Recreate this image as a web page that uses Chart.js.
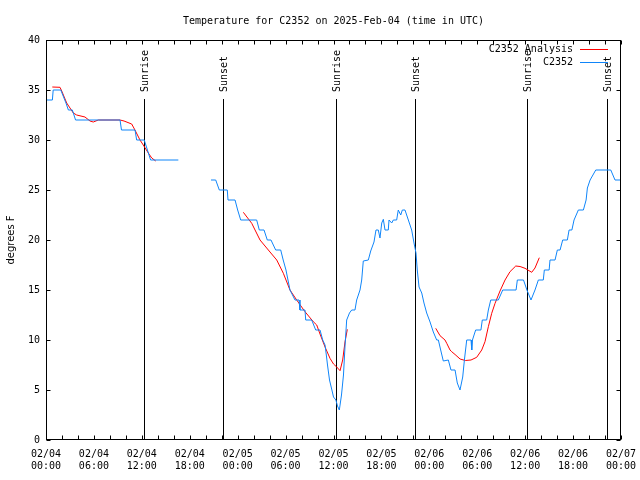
<!DOCTYPE html>
<html>
<head>
<meta charset="utf-8">
<script src="https://cdn.jsdelivr.net/npm/chart.js@4/dist/chart.umd.min.js"></script>
<style>
html,body{margin:0;padding:0;background:#fff;}
#wrap{width:640px;height:480px;}
</style>
</head>
<body>
<div id="wrap"><canvas id="c" width="640" height="480"></canvas></div>
<script>
// ---- data (hours since 02/04 00:00 UTC, degrees F) ----
const stationHours = [0,0.8,0.9,1.85,2.2,2.5,2.8,3.3,3.7,9.27,9.45,11.15,11.35,12.3,12.7,13.1,16.57,
  18.5,
  20.66,21.25,21.7,22.7,22.79,23.67,24.0,24.38,26.38,26.71,27.3,27.71,28.17,28.76,29.39,29.7,30.05,30.55,31.18,31.68,31.8,32.43,32.52,33.27,33.77,34.31,34.65,
  34.94,35.1,35.25,35.5,35.8,36.0,36.3,36.5,36.73,37.0,37.25,37.45,37.65,38.0,38.28,38.69,38.9,39.32,39.53,39.73,40.36,40.66,41.07,41.32,41.61,41.82,42.04,42.24,42.45,42.86,42.95,43.29,43.49,43.91,44.11,44.42,44.62,44.95,45.37,45.79,46.08,46.33,46.49,46.71,47.05,47.33,47.67,48.09,48.5,48.92,49.13,49.42,49.75,50.38,50.71,51.22,51.5,51.84,52.18,52.39,52.68,53.22,53.31,53.4,53.8,54.46,54.63,55.18,55.39,55.69,56.64,57.19,58.86,59.02,59.79,60.22,60.73,61.23,61.65,62.27,62.4,63.0,63.11,63.74,64.03,64.37,64.7,65.28,65.5,65.85,66.12,66.66,67.29,67.63,67.79,68.13,68.84,70.72,71.25,71.88];
const stationTemps = [34,34,35,35,34.3,33.7,33,33,32,32,31,31,30,30,29,28,28,
  null,
  26,26,25,25,24,24,23,22,22,21,21,20,20,19,19,18,17,15,14,14,13,13,12,12,11,11,10,
  9.5,8.5,7.5,6,5,4.3,4,3.4,3,4.5,6.5,9.5,12,12.7,13,13,14,15,16,17.9,18,18.9,19.8,21,21,20.2,21.7,22.07,21,21,22,21.7,22,22,23,22.5,23,23,22,21,19.7,18.7,17,15.3,14.7,13.7,12.7,11.8,10.8,10,10,9,7.9,8,7,7,5.7,5,6.3,8,10,10,9,10,11,11,12,12,13,14,14,15,15,16,16,15,14,15,16,16,17,17,18,18,19,19,20,20,21,21,22,23,23,24,25.2,26,27,27,26,26];

const analysisHours = [0.79,1.75,1.97,2.59,3.42,3.84,4.88,5.51,5.92,6.55,9.27,9.77,10.73,11.14,11.77,12.18,12.81,13.24,13.74,
  18,
  24.71,25.76,26.8,27.84,28.89,29.72,30.55,31.39,32.43,33.47,33.9,34.31,34.94,35.56,36.0,36.4,36.82,37.15,37.44,37.73,
  43,
  48.8,49.34,49.96,50.18,50.59,50.8,51.22,51.85,52.5,53.22,53.93,54.56,54.97,55.39,55.81,56.23,56.85,57.48,58.1,58.82,59.36,59.98,60.82,61.23,61.77];
const analysisTemps = [35.3,35.27,34.9,33.7,32.7,32.5,32.3,31.9,31.8,32.0,32.0,31.9,31.6,31.0,30.0,29.5,28.7,28.2,27.9,
  null,
  22.77,21.67,20.0,19.0,18.0,16.67,15,14,12.83,11.83,11.5,10.6,9.3,8.17,7.6,7.3,6.93,8.0,9.8,11.07,
  null,
  11.17,10.43,10,9.67,9,8.83,8.55,8.1,7.95,8.0,8.27,9.0,9.83,11.33,12.67,13.67,14.9,16,16.83,17.4,17.35,17.17,16.77,17.2,18.23];

const sunHours  = [12.3, 22.2, 36.35, 46.25, 60.27, 70.3];
const sunLabels = ['Sunrise','Sunset','Sunrise','Sunset','Sunrise','Sunset'];

const xTickHours = [0,6,12,18,24,30,36,42,48,54,60,66,72];
const xTickDates = ['02/04','02/04','02/04','02/04','02/05','02/05','02/05','02/05','02/06','02/06','02/06','02/06','02/07'];
const xTickTimes = ['00:00','06:00','12:00','18:00','00:00','06:00','12:00','18:00','00:00','06:00','12:00','18:00','00:00'];
const yTickValues = [0,5,10,15,20,25,30,35,40];

const seriesNames = ['C2352 Analysis','C2352'];
const titleText = 'Temperature for C2352 on 2025-Feb-04 (time in UTC)';
const yTitle = 'degrees F';

// ---- rendering ----
const MONO = "'DejaVu Sans Mono', monospace";
const SANS = "'DejaVu Sans', sans-serif";
const RED = '#ff0000';
const BLUE = '#0f85f9';
Chart.defaults.font.family = MONO;
Chart.defaults.font.size = 10;
Chart.defaults.color = '#000';

function toPoints(xs, ys) { return xs.map((x, i) => ({ x: x, y: ys[i] })); }

const decor = {
  id: 'decor',
  beforeDatasetsDraw(chart) {
    const { ctx, chartArea: a, scales: { x, y } } = chart;
    ctx.save();
    ctx.strokeStyle = '#000';
    ctx.lineWidth = 1;
    ctx.fillStyle = '#000';
    ctx.font = '10px ' + MONO;
    const topV = 34.1;
    sunHours.forEach((h, i) => {
      const px = Math.round(x.getPixelForValue(h)) + 0.5;
      const yTop = y.getPixelForValue(topV);
      ctx.beginPath();
      ctx.moveTo(px, a.bottom);
      ctx.lineTo(px, yTop);
      ctx.stroke();
      ctx.save();
      ctx.translate(px + 1, yTop - 7);
      ctx.rotate(-Math.PI / 2);
      ctx.textAlign = 'left';
      ctx.textBaseline = 'middle';
      ctx.fillText(sunLabels[i], 0, 0);
      ctx.restore();
    });
    ctx.restore();
  },
  afterDatasetsDraw(chart) {
    const { ctx, chartArea: a, scales: { x, y } } = chart;
    ctx.save();
    ctx.strokeStyle = '#000';
    ctx.lineWidth = 1;
    const L = Math.round(a.left) + 0.5, R = Math.round(a.right) - 0.5;
    const T = Math.round(a.top) + 0.5, B = Math.round(a.bottom) - 0.5;
    ctx.strokeRect(L, T, R - L, B - T);
    ctx.beginPath();
    for (let h = 0; h <= 72; h += 2) {
      const px = Math.round(x.getPixelForValue(h)) + 0.5;
      ctx.moveTo(px, B); ctx.lineTo(px, B - 4);
      ctx.moveTo(px, T); ctx.lineTo(px, T + 4);
    }
    yTickValues.forEach(v => {
      const py = Math.round(y.getPixelForValue(v)) + 0.5;
      ctx.moveTo(L, py); ctx.lineTo(L + 4, py);
      ctx.moveTo(R, py); ctx.lineTo(R - 4, py);
    });
    ctx.stroke();
    // legend
    ctx.font = '10px ' + MONO;
    ctx.fillStyle = '#000';
    ctx.textAlign = 'right';
    ctx.textBaseline = 'middle';
    const colors = [RED, BLUE];
    seriesNames.forEach((name, i) => {
      const ly = Math.round(a.top) + 9 + i * 13 + 0.5;
      ctx.fillText(name, a.right - 48, ly);
      ctx.strokeStyle = colors[i];
      ctx.beginPath();
      ctx.moveTo(a.right - 41, ly);
      ctx.lineTo(a.right - 13, ly);
      ctx.stroke();
    });
    ctx.restore();
  }
};

new Chart(document.getElementById('c'), {
  type: 'line',
  data: {
    datasets: [
      { label: seriesNames[0], data: toPoints(analysisHours, analysisTemps), borderColor: RED, backgroundColor: RED,
        borderWidth: 1, pointRadius: 0, tension: 0, spanGaps: false, order: 2 },
      { label: seriesNames[1], data: toPoints(stationHours, stationTemps), borderColor: BLUE, backgroundColor: BLUE,
        borderWidth: 1, pointRadius: 0, tension: 0, spanGaps: false, order: 1 }
    ]
  },
  options: {
    responsive: false,
    animation: false,
    devicePixelRatio: 1,
    layout: { padding: { left: 0, right: 19, top: 0, bottom: 0 } },
    plugins: {
      legend: { display: false },
      tooltip: { enabled: false },
      title: {
        display: true, text: titleText, fullSize: false, align: 'center', color: '#000',
        font: { family: MONO, size: 10, weight: 'normal' },
        padding: { top: 15, bottom: 13 }
      }
    },
    scales: {
      x: {
        type: 'linear', min: 0, max: 72,
        afterBuildTicks: s => { s.ticks = xTickHours.map(v => ({ value: v })); },
        afterFit: s => { s.height = 40; s.paddingLeft = 0; s.paddingRight = 0; },
        grid: { display: false, drawTicks: false },
        border: { display: false },
        ticks: {
          autoSkip: false, maxRotation: 0, minRotation: 0, padding: 8, color: '#000',
          font: { family: MONO, size: 10 },
          callback: (v, i) => [xTickDates[i], xTickTimes[i]]
        }
      },
      y: {
        type: 'linear', min: 0, max: 40,
        afterBuildTicks: s => { s.ticks = yTickValues.map(v => ({ value: v })); },
        afterFit: s => { s.width = 46; s.paddingTop = 0; s.paddingBottom = 0; },
        grid: { display: false, drawTicks: false },
        border: { display: false },
        ticks: { padding: 6, color: '#000', font: { family: MONO, size: 10 } },
        title: { display: true, text: yTitle, color: '#000', font: { family: SANS, size: 10 }, padding: { top: 5, bottom: 0 } }
      }
    }
  },
  plugins: [decor]
});
</script>
</body>
</html>
